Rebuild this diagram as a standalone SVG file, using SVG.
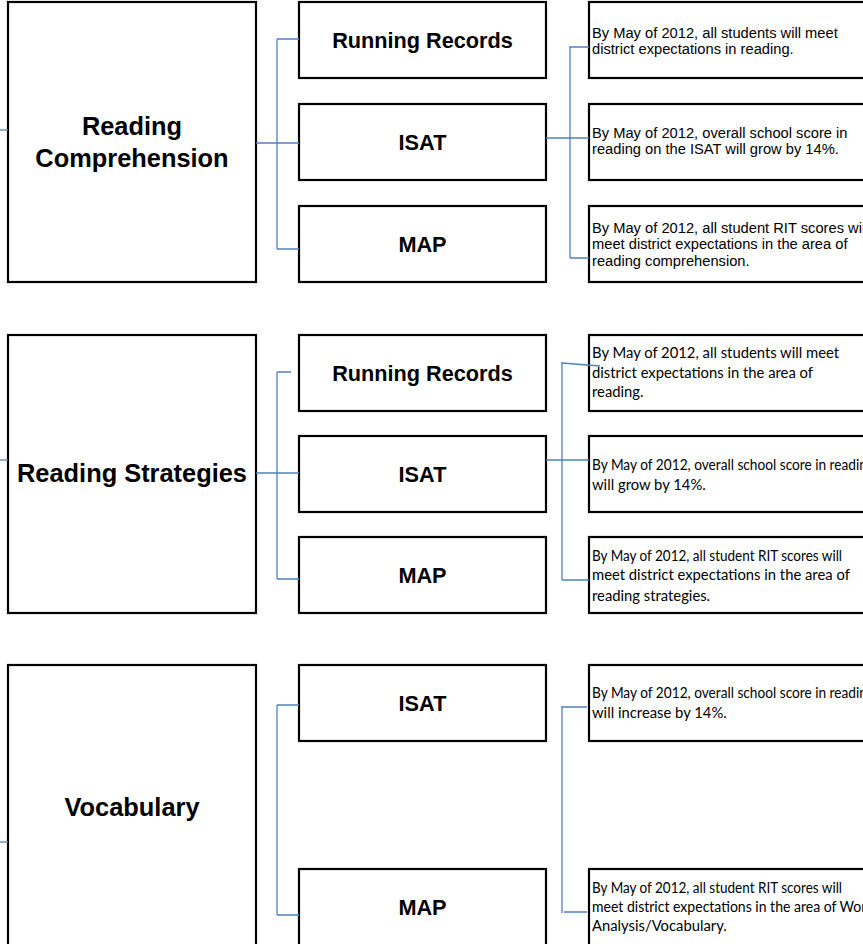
<svg xmlns="http://www.w3.org/2000/svg" width="863" height="944" viewBox="0 0 863 944">
<style>
.box{fill:#fff;stroke:#000;stroke-width:2.2}
.big{font-family:"Liberation Sans",Arial,sans-serif;font-weight:bold;font-size:25.4px;fill:#000;text-anchor:middle}
.mid{font-family:"Liberation Sans",Arial,sans-serif;font-weight:bold;font-size:21.7px;fill:#000;text-anchor:middle;dominant-baseline:central}
.ar{font-family:"Liberation Sans",Arial,sans-serif;font-size:14.7px;fill:#000}
.cal{font-family:Lato,"Open Sans",sans-serif;font-size:14.8px;fill:#000}
.conn{fill:none;stroke:#4F81BD;stroke-width:1.3}
</style>
<rect width="863" height="944" fill="#fff"/>

<!-- Block 1 -->
<g id="reading-comprehension">
<rect class="box" x="8" y="2" width="248" height="280"/>
<text class="big" x="132" y="135">Reading</text>
<text class="big" x="132" y="167">Comprehension</text>
</g>
<g id="rc-running-records"><rect class="box" x="299" y="2" width="247" height="76"/><text class="mid" x="422.5" y="40">Running Records</text></g>
<g id="rc-isat"><rect class="box" x="299" y="104" width="247" height="76"/><text class="mid" x="422.5" y="142">ISAT</text></g>
<g id="rc-map"><rect class="box" x="299" y="206" width="247" height="76"/><text class="mid" x="422.5" y="244">MAP</text></g>
<g id="rc-goal-1"><rect class="box" x="589" y="2" width="300" height="76"/>
<text class="ar" x="592" y="38">By May of 2012, all students will meet</text>
<text class="ar" x="592" y="54">district expectations in reading.</text></g>
<g id="rc-goal-2"><rect class="box" x="589" y="104" width="300" height="76"/>
<text class="ar" x="592" y="138">By May of 2012, overall school score in</text>
<text class="ar" x="592" y="154">reading on the ISAT will grow by 14%.</text></g>
<g id="rc-goal-3"><rect class="box" x="589" y="206" width="300" height="76"/>
<text class="ar" x="592" y="233">By May of 2012, all student RIT scores will</text>
<text class="ar" x="592" y="249">meet district expectations in the area of</text>
<text class="ar" x="592" y="266">reading comprehension.</text></g>

<!-- Block 2 -->
<g id="reading-strategies">
<rect class="box" x="8" y="335" width="248" height="278"/>
<text class="big" x="132" y="482">Reading Strategies</text>
</g>
<g id="rs-running-records"><rect class="box" x="299" y="335" width="247" height="76"/><text class="mid" x="422.5" y="373">Running Records</text></g>
<g id="rs-isat"><rect class="box" x="299" y="436" width="247" height="76"/><text class="mid" x="422.5" y="474">ISAT</text></g>
<g id="rs-map"><rect class="box" x="299" y="537" width="247" height="76"/><text class="mid" x="422.5" y="575">MAP</text></g>
<g id="rs-goal-1"><rect class="box" x="589" y="335" width="300" height="76"/>
<text class="cal" x="592" y="358">By May of 2012, all students will meet</text>
<text class="cal" x="592" y="378">district expectations in the area of</text>
<text class="cal" x="592" y="397">reading.</text></g>
<g id="rs-goal-2"><rect class="box" x="589" y="436" width="300" height="76"/>
<text class="cal" x="592" y="470" textLength="282" lengthAdjust="spacingAndGlyphs">By May of 2012, overall school score in reading</text>
<text class="cal" x="592" y="490">will grow by 14%.</text></g>
<g id="rs-goal-3"><rect class="box" x="589" y="537" width="300" height="76"/>
<text class="cal" x="592" y="561" textLength="250" lengthAdjust="spacingAndGlyphs">By May of 2012, all student RIT scores will</text>
<text class="cal" x="592" y="580">meet district expectations in the area of</text>
<text class="cal" x="592" y="601">reading strategies.</text></g>

<!-- Block 3 -->
<g id="vocabulary">
<rect class="box" x="8" y="665" width="248" height="300"/>
<text class="big" x="132" y="816">Vocabulary</text>
</g>
<g id="v-isat"><rect class="box" x="299" y="665" width="247" height="76"/><text class="mid" x="422.5" y="703">ISAT</text></g>
<g id="v-map"><rect class="box" x="299" y="869" width="247" height="100"/><text class="mid" x="422.5" y="907">MAP</text></g>
<g id="v-goal-1"><rect class="box" x="589" y="665" width="300" height="76"/>
<text class="cal" x="592" y="698" textLength="282" lengthAdjust="spacingAndGlyphs">By May of 2012, overall school score in reading</text>
<text class="cal" x="592" y="718">will increase by 14%.</text></g>
<g id="v-goal-2"><rect class="box" x="589" y="869" width="300" height="100"/>
<text class="cal" x="592" y="893" textLength="250" lengthAdjust="spacingAndGlyphs">By May of 2012, all student RIT scores will</text>
<text class="cal" x="592" y="912" textLength="282" lengthAdjust="spacingAndGlyphs">meet district expectations in the area of Word</text>
<text class="cal" x="592" y="931">Analysis/Vocabulary.</text></g>

<g id="connectors" class="conn">
<!-- block 1 -->
<path d="M0 130H8"/>
<path d="M256 143H299"/>
<path d="M277 39V249"/>
<path d="M277 39H299M277 249H299"/>
<path d="M570 46V258"/>
<path d="M570 47H589M546 138H589M570 258H589"/>
<!-- block 2 -->
<path d="M0 460H8"/>
<path d="M256 473H299"/>
<path d="M277 372V579"/>
<path d="M277 372H291M277 579H299"/>
<path d="M562 362V580"/>
<path d="M562 363L600 366M546 460H589M562 580H589"/>
<!-- block 3 -->
<path d="M0 842H8"/>
<path d="M277 705V915"/>
<path d="M277 705H299M277 915H299"/>
<path d="M562 706V913"/>
<path d="M562 707H587M564 912H587"/>
</g>
</svg>
